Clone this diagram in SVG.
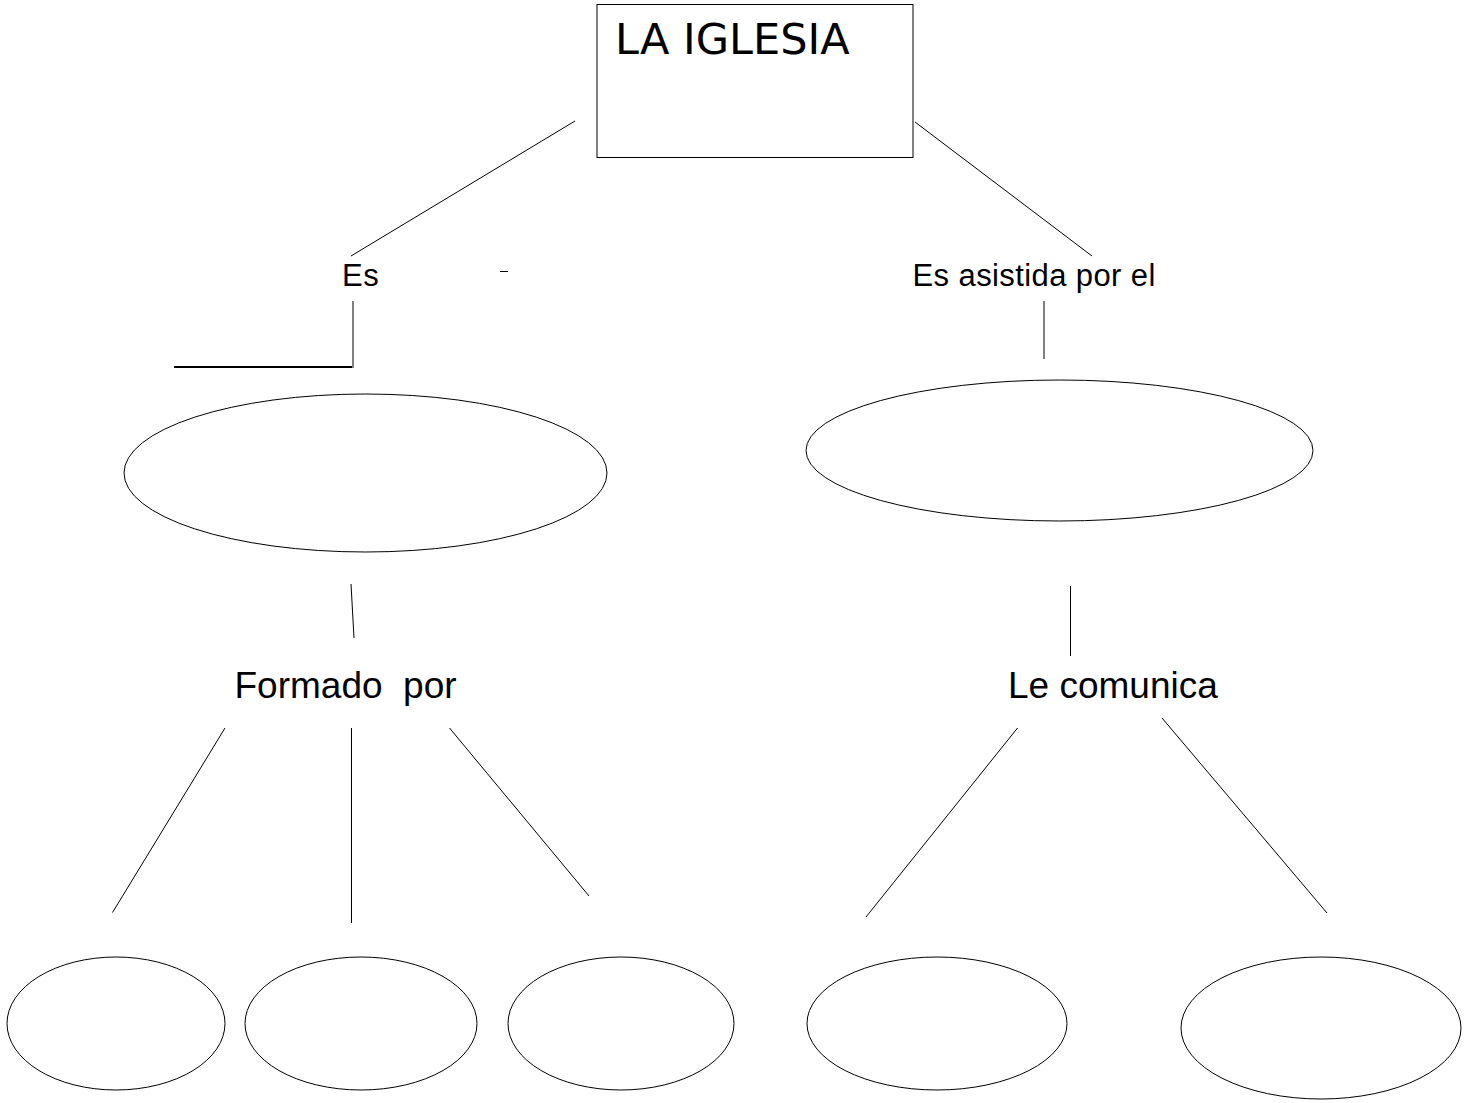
<svg xmlns="http://www.w3.org/2000/svg" width="1465" height="1103" viewBox="0 0 1465 1103">
<style>
.shape{fill:#ffffff;stroke:#000000;stroke-width:1}
.ln{stroke:#000000;stroke-width:1;fill:none}
.lbl{font-family:"Liberation Sans",Arial,sans-serif;fill:#000000}
.title{font-family:"DejaVu Sans",sans-serif;font-size:43px;fill:#000000}
</style>
<rect width="1465" height="1103" fill="#ffffff"/>
<g id="connectors">
<line class="ln" x1="575" y1="121" x2="351" y2="256"/>
<line class="ln" x1="915" y1="122" x2="1092" y2="256"/>
<line class="ln" x1="353" y1="301" x2="353" y2="368"/>
<line class="ln" x1="174" y1="367" x2="352" y2="367" style="stroke-width:2"/>
<line class="ln" x1="500" y1="271.5" x2="508" y2="271.5"/>
<line class="ln" x1="1044" y1="301" x2="1044" y2="359"/>
<line class="ln" x1="351" y1="584" x2="354" y2="638"/>
<line class="ln" x1="1070.5" y1="586" x2="1070.5" y2="656"/>
<line class="ln" x1="225" y1="728" x2="112.5" y2="912.5"/>
<line class="ln" x1="351.5" y1="728" x2="351.5" y2="923"/>
<line class="ln" x1="449.5" y1="728" x2="589" y2="896"/>
<line class="ln" x1="1017.5" y1="728" x2="866" y2="917"/>
<line class="ln" x1="1162" y1="718" x2="1327" y2="913"/>
</g>
<g id="node-iglesia">
<rect class="shape" x="597" y="4.5" width="316" height="153"/>
<text class="title" x="615" y="54">LA IGLESIA</text>
</g>
<g id="label-es">
<text class="lbl" x="342" y="286" font-size="31" letter-spacing="0.6">Es</text>
</g>
<g id="label-asistida">
<text class="lbl" x="912.5" y="286" font-size="31" letter-spacing="0.4">Es asistida por el</text>
</g>
<g id="node-left">
<ellipse class="shape" cx="365.5" cy="473" rx="241.5" ry="79"/>
</g>
<g id="node-right">
<ellipse class="shape" cx="1059.5" cy="450.5" rx="253.5" ry="70.5"/>
</g>
<g id="label-formado">
<text class="lbl" x="234.5" y="698" font-size="37" xml:space="preserve">Formado  por</text>
</g>
<g id="label-comunica">
<text class="lbl" x="1008" y="698" font-size="37">Le comunica</text>
</g>
<g id="node-b1"><ellipse class="shape" cx="116" cy="1023.5" rx="109" ry="66.5"/></g>
<g id="node-b2"><ellipse class="shape" cx="361" cy="1023.5" rx="116" ry="66.5"/></g>
<g id="node-b3"><ellipse class="shape" cx="621" cy="1023.5" rx="113" ry="66.5"/></g>
<g id="node-b4"><ellipse class="shape" cx="937" cy="1023.5" rx="130" ry="66.5"/></g>
<g id="node-b5"><ellipse class="shape" cx="1321" cy="1028" rx="140" ry="71"/></g>
</svg>
